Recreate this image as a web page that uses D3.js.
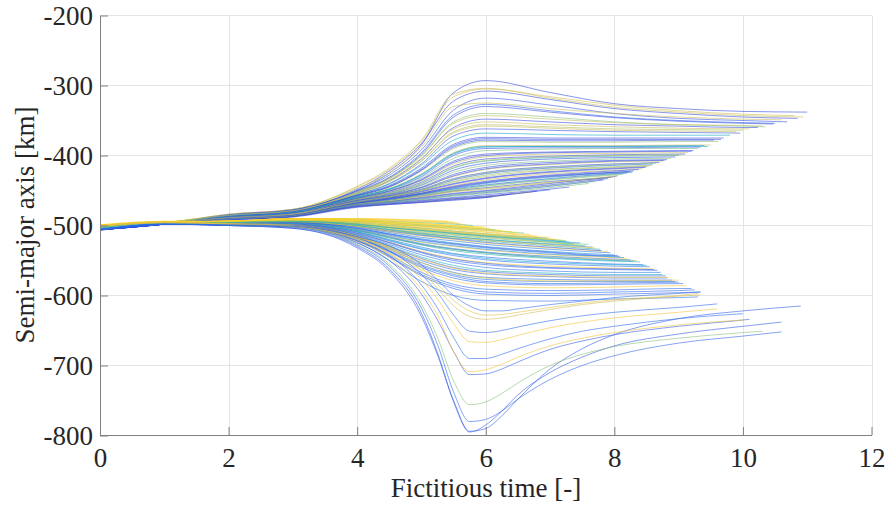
<!DOCTYPE html>
<head>
  <meta charset="utf-8">
  <script src="https://d3js.org/d3.v7.min.js"></script>
  <style>
    body {
      margin: 0;
      background: #fff;
    }
    .axis text {
      font-family: "Liberation Serif", "Times New Roman", serif;
      font-size: 27px;
      fill: #262626;
    }
    .axis path, .axis line {
      stroke: #808080;
    }
    .label {
      font-family: "Liberation Serif", "Times New Roman", serif;
      font-size: 27px;
      fill: #262626;
    }
    g.grid line {
      stroke: #e4e4e4;
      stroke-width: 1;
    }
    g.traj path {
      fill: none;
      stroke-width: 0.9;
      stroke-opacity: 0.65;
    }
  </style>
</head>

<body>
  <div id="chart"></div>

  <script>
    // axis ticks
    var xTicks = [0, 2, 4, 6, 8, 10, 12];
    var yTicks = [-800, -700, -600, -500, -400, -300, -200];

    // sample times shared by the curves of each family
    var branchT = [0, 1, 2, 3, 4, 4.5, 5, 5.5, 6, 7, 8, 9, 10, 11];
    var deepT = [0, 1, 2, 3, 4, 4.5, 5, 5.25, 5.5, 5.75, 6, 6.25, 6.5, 7, 7.5, 8, 9, 10, 11];

    // upper branch: end time, colour parameter, values (last value is at the end time)
    var upperEnd = [11.0, 10.94, 10.85, 10.8, 10.69, 10.6, 10.47, 10.35, 10.23, 10.1,
                    9.96, 9.9, 9.8, 9.7, 9.62, 9.55, 9.5, 9.34, 9.3, 9.23,
                    9.15, 9.1, 9.0, 8.95, 8.88, 8.82, 8.75, 8.7, 8.59, 8.5,
                    8.44, 8.38, 8.28, 8.2, 8.12, 8.05, 7.98, 7.94, 7.83, 7.6,
                    7.3, 7.0, 6.7, 6.4, 6.1, 9.4, 10.0, 8.6, 8.15, 10.5,
                    8.3, 8.0, 8.48, 8.65, 8.78, 9.05, 9.2, 9.45, 9.66, 10.3,
                    7.9, 7.7, 8.25, 8.55, 6.8];
    var upperTone = [.05, .74, .05, .76, .07, .74, .05, .62, .05, .74,
                     .07, .74, .4, .05, .65, .05, .76, .07, .6, .05,
                     .74, .05, .45, .05, .62, .07, .74, .05, .62, .05,
                     .76, .05, .42, .05, .65, .05, .74, .05, .07, .6,
                     .05, .05, .74, .05, .05, .3, .7, .09, .55, .12,
                     .05, .72, .05, .62, .05, .72, .05, .4, .05, .72,
                     .05, .6, .05, .72, .05];
    var upperVals = [
      [-506,-498,-484,-477,-450,-425,-385,-310,-293,-310,-326,-333,-337,-338],
      [-501,-496,-484,-477,-444,-418,-378,-312,-304,-318,-331,-338,-343,-345],
      [-506,-498,-485,-478,-448,-422,-383,-322,-308,-320,-333,-340,-345,-347],
      [-501,-496,-484,-477,-445,-420,-380,-316,-305,-316,-328,-336,-341,-343],
      [-505,-498,-485,-478,-450,-428,-392,-335,-318,-328,-340,-347,-350,-352],
      [-501,-496,-485,-478,-447,-425,-388,-330,-325,-333,-340,-345,-348,-349],
      [-506,-498,-485,-478,-452,-432,-398,-345,-330,-338,-346,-351,-354,-355],
      [-503,-497,-486,-479,-452,-433,-400,-352,-340,-345,-352,-356,-358,-359],
      [-506,-498,-486,-479,-454,-436,-405,-360,-348,-352,-356,-358,-360,-360],
      [-501,-496,-486,-479,-453,-435,-404,-362,-352,-356,-359,-361,-362,-362],
      [-505,-498,-486,-480,-456,-440,-412,-372,-362,-364,-366,-367,-368],
      [-501,-496,-486,-480,-455,-437,-408,-368,-358,-361,-364,-365,-366],
      [-504,-497,-486,-480,-456,-441,-414,-378,-368,-370,-371,-371,-371],
      [-506,-498,-487,-480,-457,-443,-418,-384,-374,-375,-375,-375,-375],
      [-503,-497,-487,-481,-458,-445,-422,-390,-380,-381,-381,-380,-380],
      [-506,-498,-487,-481,-458,-445,-421,-388,-378,-379,-379,-378,-378],
      [-501,-496,-487,-481,-459,-447,-426,-396,-386,-386,-386,-385,-385],
      [-505,-498,-487,-481,-460,-449,-430,-400,-390,-389,-389,-388,-388],
      [-503,-497,-487,-482,-460,-450,-432,-404,-393,-391,-390,-390,-390],
      [-506,-498,-488,-482,-461,-451,-434,-408,-398,-395,-394,-393,-393],
      [-501,-496,-488,-482,-461,-452,-436,-412,-402,-398,-397,-396,-396],
      [-506,-498,-488,-482,-462,-453,-438,-415,-405,-401,-399,-398,-398],
      [-504,-497,-488,-483,-462,-454,-440,-418,-408,-403,-401,-400],
      [-506,-498,-488,-483,-463,-455,-442,-421,-411,-405,-403,-402],
      [-503,-497,-488,-483,-463,-455,-443,-424,-414,-408,-405,-404],
      [-505,-498,-489,-483,-464,-456,-445,-427,-417,-410,-407,-406],
      [-501,-496,-489,-483,-464,-457,-446,-430,-420,-413,-409,-408],
      [-506,-498,-489,-484,-465,-458,-448,-433,-424,-416,-412,-410],
      [-503,-497,-489,-484,-466,-459,-450,-437,-428,-420,-416,-414],
      [-506,-498,-489,-484,-466,-460,-451,-440,-432,-423,-418,-416],
      [-501,-496,-489,-484,-467,-461,-453,-443,-435,-426,-421,-419],
      [-506,-498,-490,-485,-467,-461,-454,-444,-437,-428,-422,-420],
      [-504,-497,-490,-485,-468,-462,-455,-447,-440,-431,-425,-424],
      [-506,-498,-490,-485,-468,-463,-456,-448,-442,-433,-426,-425],
      [-503,-497,-490,-485,-469,-464,-457,-450,-444,-435,-428,-427],
      [-506,-498,-490,-486,-469,-464,-458,-451,-446,-437,-430,-429],
      [-501,-496,-490,-486,-470,-465,-459,-452,-448,-439,-431],
      [-506,-498,-491,-486,-470,-466,-460,-454,-450,-440,-431],
      [-505,-498,-491,-486,-471,-467,-462,-457,-453,-444,-435],
      [-503,-497,-491,-487,-471,-467,-463,-458,-454,-446,-440],
      [-506,-498,-491,-487,-472,-468,-464,-460,-456,-448,-445],
      [-506,-498,-491,-487,-472,-469,-465,-461,-458,-449],
      [-501,-496,-491,-487,-473,-469,-466,-462,-459,-452],
      [-506,-498,-492,-487,-473,-470,-467,-463,-460,-455],
      [-506,-498,-492,-488,-474,-470,-467,-464,-460,-459],
      [-505,-497,-487,-481,-459,-448,-428,-398,-388,-387,-387,-386,-386],
      [-502,-496,-486,-479,-454,-437,-408,-366,-356,-359,-362,-363,-364],
      [-505,-498,-489,-484,-465,-458,-449,-435,-426,-418,-414,-412],
      [-503,-497,-490,-485,-468,-463,-456,-449,-443,-434,-427,-426],
      [-505,-498,-485,-478,-451,-431,-396,-342,-327,-336,-345,-350,-353,-354],
      [-506,-498,-490,-485,-468,-462,-455,-446,-439,-430,-424,-422],
      [-501,-496,-490,-486,-469,-465,-458,-451,-447,-438,-430],
      [-506,-498,-489,-484,-466,-460,-452,-441,-433,-424,-419,-417],
      [-503,-497,-489,-484,-465,-458,-449,-434,-425,-417,-413,-411],
      [-506,-498,-489,-483,-464,-457,-446,-429,-419,-412,-408,-407],
      [-501,-496,-488,-483,-462,-454,-440,-417,-407,-402,-400,-399,-399],
      [-506,-498,-488,-482,-461,-451,-435,-410,-400,-396,-395,-394,-394],
      [-504,-497,-487,-481,-459,-448,-427,-397,-387,-387,-387,-387,-387],
      [-506,-498,-487,-480,-457,-444,-420,-386,-376,-377,-377,-377,-377],
      [-501,-496,-485,-479,-452,-433,-401,-354,-343,-348,-353,-356,-357,-358],
      [-506,-498,-491,-486,-470,-466,-461,-455,-451,-442,-433],
      [-503,-497,-491,-486,-470,-466,-462,-456,-452,-443,-437],
      [-506,-498,-490,-485,-468,-462,-454,-445,-438,-429,-424,-423],
      [-501,-496,-489,-484,-466,-459,-450,-438,-430,-421,-417,-415],
      [-506,-498,-492,-487,-473,-469,-466,-462,-459,-451]
    ];

    // lower branch
    var lowerEnd = [5.4, 5.6, 5.8, 5.95, 6.15, 6.4, 6.6, 6.8, 6.95, 7.1,
                    7.25, 7.47, 7.44, 7.66, 7.78, 7.9, 7.94, 8.0, 8.09, 8.2,
                    8.25, 8.4, 8.45, 8.55, 8.6, 8.67, 8.72, 8.75, 8.82, 8.9,
                    9.07, 9.12, 9.2, 9.34, 9.3, 6.0, 6.5, 7.6, 8.15, 8.5,
                    8.8, 8.35, 8.95, 7.8, 7.0, 7.3, 9.0, 5.5, 5.7, 6.25,
                    6.7, 7.2, 7.35, 7.7, 8.05, 8.3, 8.62, 8.85, 9.0, 9.25,
                    7.55, 6.05];
    var lowerTone = [.92, .88, .5, .9, .35, .88, .55, .9, .3, .86,
                     .5, .3, .88, .17, .45, .9, .17, .3, .15, .88,
                     .15, .5, .13, .15, .88, .13, .17, .45, .12, .15,
                     .13, .86, .15, .13, .15, .95, .95, .6, .25, .36,
                     .12, .7, .2, .1, .92, .4, .82, .9, .85, .92,
                     .88, .9, .55, .88, .1, .3, .1, .85, .12, .12,
                     .5, .92];
    var lowerVals = [
      [-500,-495,-494,-490,-490,-491,-492,-494],
      [-500,-495,-494,-490,-491,-492,-494,-496,-497],
      [-503,-497,-495,-491,-492,-494,-496,-498,-500],
      [-500,-495,-494,-491,-493,-495,-497,-500,-503],
      [-504,-497,-495,-491,-493,-496,-499,-502,-505,-506],
      [-500,-495,-494,-492,-494,-497,-500,-503,-506,-509],
      [-503,-497,-495,-492,-494,-498,-501,-504,-507,-511],
      [-500,-495,-494,-492,-495,-499,-503,-506,-510,-515],
      [-505,-498,-496,-493,-496,-500,-504,-508,-512,-518],
      [-500,-495,-494,-493,-497,-501,-505,-509,-513,-519,-520],
      [-503,-497,-495,-493,-497,-502,-506,-510,-514,-520,-522],
      [-505,-498,-496,-494,-498,-503,-507,-511,-515,-522,-525],
      [-500,-495,-494,-494,-499,-504,-509,-513,-517,-524,-528],
      [-506,-498,-497,-495,-500,-506,-511,-516,-520,-527,-531],
      [-503,-497,-496,-495,-501,-507,-513,-518,-522,-529,-534],
      [-500,-495,-495,-495,-502,-509,-515,-520,-525,-532,-537],
      [-506,-498,-497,-496,-503,-510,-517,-522,-527,-534,-539],
      [-505,-498,-497,-496,-504,-512,-519,-525,-530,-537,-542],
      [-506,-498,-497,-496,-505,-513,-521,-527,-532,-539,-544,-544],
      [-500,-495,-495,-496,-506,-515,-524,-530,-535,-542,-546,-547],
      [-506,-498,-497,-497,-507,-516,-526,-533,-538,-544,-548,-549],
      [-503,-497,-496,-497,-508,-518,-528,-536,-541,-547,-551,-552],
      [-506,-498,-498,-497,-509,-520,-531,-540,-545,-551,-555,-556],
      [-506,-498,-498,-498,-510,-522,-534,-543,-549,-555,-558,-559],
      [-500,-495,-496,-498,-511,-524,-537,-547,-553,-558,-561,-562],
      [-506,-498,-498,-498,-512,-525,-539,-550,-556,-561,-563,-564],
      [-506,-498,-498,-499,-513,-527,-542,-553,-560,-565,-567,-567],
      [-503,-497,-497,-499,-514,-529,-545,-557,-564,-568,-570,-570],
      [-506,-498,-498,-499,-515,-532,-550,-563,-569,-573,-575,-575],
      [-506,-498,-499,-500,-516,-534,-553,-567,-574,-577,-578,-578],
      [-506,-498,-499,-500,-518,-538,-560,-575,-582,-585,-584,-583,-583],
      [-500,-495,-497,-500,-519,-540,-563,-579,-586,-589,-588,-586,-586],
      [-506,-498,-499,-501,-520,-542,-567,-584,-591,-593,-592,-590,-590],
      [-506,-498,-499,-501,-522,-545,-572,-590,-598,-600,-598,-596,-595],
      [-506,-498,-500,-502,-524,-550,-580,-600,-607,-608,-605,-603,-602],
      [-499,-494,-494,-490,-492,-494,-497,-500,-502],
      [-499,-494,-494,-491,-493,-497,-501,-504,-507,-510],
      [-503,-497,-496,-494,-499,-505,-510,-514,-518,-524,-527],
      [-505,-498,-497,-496,-506,-514,-523,-529,-534,-541,-545,-546],
      [-504,-497,-497,-497,-509,-521,-533,-541,-547,-553,-556,-557],
      [-506,-498,-498,-499,-514,-530,-547,-560,-566,-570,-572,-572],
      [-502,-496,-496,-497,-507,-517,-527,-534,-539,-545,-549,-550],
      [-506,-498,-499,-500,-517,-536,-556,-570,-577,-580,-580,-580],
      [-506,-498,-497,-495,-502,-508,-514,-519,-524,-531,-536],
      [-500,-495,-494,-493,-496,-500,-504,-508,-512,-517],
      [-504,-497,-496,-494,-498,-503,-507,-511,-515,-521,-524],
      [-501,-496,-497,-500,-516,-534,-553,-568,-575,-579,-579,-578],
      [-500,-495,-494,-490,-490,-491,-493,-495],
      [-500,-495,-494,-490,-491,-493,-495,-497,-499],
      [-500,-495,-494,-491,-493,-496,-499,-502,-505,-507],
      [-500,-495,-494,-492,-494,-498,-502,-505,-509,-513],
      [-500,-495,-494,-493,-497,-502,-506,-510,-514,-520,-521],
      [-503,-497,-495,-494,-498,-503,-508,-512,-516,-523,-526],
      [-500,-495,-495,-495,-501,-507,-512,-517,-521,-528,-532],
      [-506,-498,-497,-496,-504,-512,-520,-526,-531,-538,-543,-543],
      [-505,-498,-497,-497,-507,-517,-527,-534,-539,-546,-550,-551],
      [-506,-498,-498,-498,-511,-524,-538,-548,-554,-560,-562,-563],
      [-500,-495,-497,-499,-515,-531,-548,-561,-568,-572,-574,-574],
      [-506,-498,-499,-500,-517,-537,-558,-572,-580,-583,-582,-581],
      [-506,-498,-499,-501,-521,-544,-570,-587,-595,-597,-595,-593,-592],
      [-503,-497,-496,-494,-500,-506,-512,-516,-520,-526,-529],
      [-500,-495,-494,-491,-492,-495,-498,-501,-504,-504]
    ];

    // deep dips of the lower branch
    var deepEnd = [10.9, 10.6, 10.6, 10.3, 10.1, 10.0, 10.0, 9.6, 9.6, 9.34, 9.3, 9.34];
    var deepTone = [.1, .08, .12, .62, .1, .85, .14, .85, .14, .76, .8, .14];
    var deepVals = [
      [-507,-498,-500,-504,-532,-565,-630,-685,-750,-794,-790,-772,-748,-705,-676,-656,-633,-622,-615],
      [-507,-498,-500,-504,-530,-562,-625,-682,-752,-795,-785,-765,-742,-710,-688,-672,-655,-644,-638],
      [-506,-498,-500,-503,-528,-558,-618,-670,-738,-780,-777,-765,-748,-720,-700,-686,-668,-658,-652],
      [-503,-497,-499,-502,-527,-555,-612,-660,-722,-756,-752,-740,-725,-700,-684,-673,-661,-653,-651],
      [-506,-498,-499,-502,-525,-550,-598,-635,-680,-713,-712,-705,-695,-677,-665,-656,-644,-635,-634],
      [-500,-495,-498,-501,-523,-546,-592,-628,-680,-709,-706,-698,-688,-672,-661,-653,-642,-635],
      [-506,-498,-499,-501,-522,-543,-585,-618,-660,-690,-690,-684,-676,-662,-651,-644,-633,-626],
      [-500,-495,-498,-501,-520,-540,-577,-605,-640,-666,-667,-663,-657,-646,-638,-632,-624,-619],
      [-506,-498,-499,-501,-518,-536,-570,-596,-628,-651,-653,-650,-645,-636,-629,-624,-617,-612],
      [-501,-496,-498,-501,-518,-533,-565,-590,-615,-630,-634,-632,-628,-620,-613,-608,-601,-599],
      [-501,-496,-498,-501,-517,-531,-560,-584,-607,-622,-628,-627,-624,-617,-611,-606,-600,-597],
      [-506,-498,-499,-501,-516,-529,-556,-578,-600,-615,-622,-622,-619,-613,-608,-603,-597,-595]
    ];

    var width = 891,
        height = 508;

    var svg = d3.select("#chart").append("svg")
      .attr("width", width)
      .attr("height", height);

    var x = d3.scaleLinear().domain([0, 12]).range([100, 871.5]);
    var y = d3.scaleLinear().domain([-800, -200]).range([435.5, 15.5]);

    // parula-like colour map, brightened on the blue end
    var parula = d3.scaleLinear()
      .domain([0, .125, .25, .375, .5, .625, .75, .875, 1])
      .range(["#3b3bd2", "#2d66ec", "#1a8ae2", "#06a4ca", "#2eb7a4",
              "#87bf77", "#cbbb55", "#fcc530", "#f9f010"]);

    // grid
    var grid = svg.append("g").attr("class", "grid");
    grid.selectAll("line.gx")
        .data(xTicks)
      .enter().append("line")
        .attr("class", "gx")
        .attr("x1", function(d) { return Math.round(x(d)) + 0.5; })
        .attr("x2", function(d) { return Math.round(x(d)) + 0.5; })
        .attr("y1", y(-800))
        .attr("y2", y(-200));
    grid.selectAll("line.gy")
        .data(yTicks)
      .enter().append("line")
        .attr("class", "gy")
        .attr("x1", x(0))
        .attr("x2", x(12))
        .attr("y1", function(d) { return Math.floor(y(d)) + 0.5; })
        .attr("y2", function(d) { return Math.floor(y(d)) + 0.5; });

    function toPoints(knots, vals, end) {
      return vals.map(function(v, j) {
        return j < vals.length - 1 ? [knots[j], v] : [end, v];
      });
    }

    var line = d3.line()
      .x(function(d) { return x(d[0]); })
      .y(function(d) { return y(d[1]); })
      .curve(d3.curveMonotoneX);

    var curves = [];
    upperVals.forEach(function(v, i) {
      curves.push({pts: toPoints(branchT, v, upperEnd[i]), tone: upperTone[i]});
    });
    lowerVals.forEach(function(v, i) {
      curves.push({pts: toPoints(branchT, v, lowerEnd[i]), tone: lowerTone[i]});
    });
    deepVals.forEach(function(v, i) {
      curves.push({pts: toPoints(deepT, v, deepEnd[i]), tone: deepTone[i]});
    });

    svg.append("g").attr("class", "traj")
      .selectAll("path")
        .data(curves)
      .enter().append("path")
        .attr("d", function(d) { return line(d.pts); })
        .style("stroke", function(d) { return parula(d.tone); });

    // axes
    var fmt = function(d) { return String(d); };

    var gx = svg.append("g")
      .attr("class", "axis")
      .attr("transform", "translate(0,435)")
      .call(d3.axisBottom(x).tickValues(xTicks).tickFormat(fmt)
        .tickSizeInner(-8).tickSizeOuter(0).tickPadding(13));

    var gy = svg.append("g")
      .attr("class", "axis")
      .attr("transform", "translate(100,0)")
      .call(d3.axisLeft(y).tickValues(yTicks).tickFormat(fmt)
        .tickSizeInner(-8).tickSizeOuter(0).tickPadding(7));

    svg.selectAll(".axis").attr("font-family", null).attr("font-size", null);
    gy.selectAll("text").attr("dy", "0.35em");

    svg.append("text")
      .attr("class", "label")
      .attr("x", 486)
      .attr("y", 497)
      .attr("text-anchor", "middle")
      .text("Fictitious time [-]");

    svg.append("text")
      .attr("class", "label")
      .attr("transform", "translate(33.5,225) rotate(-90)")
      .attr("text-anchor", "middle")
      .text("Semi-major axis [km]");
  </script>
</body>
